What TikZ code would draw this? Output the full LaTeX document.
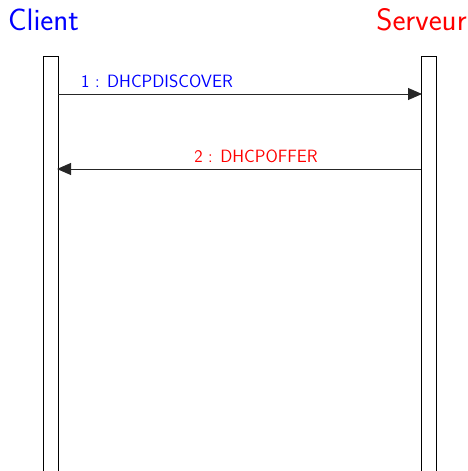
\documentclass[tikz,border=0pt]{standalone}
\usetikzlibrary{arrows.meta}
\begin{document}
\begin{tikzpicture}[x=1pt,y=-1pt,
  lifeline/.style={draw=black,line width=0.9pt},
  msg/.style={draw=black!85,line width=0.9pt,-{Triangle[length=14pt,width=12pt]}},
  actor/.style={font=\sffamily\fontsize{31}{33}\selectfont,anchor=base,inner sep=0pt},
  msglabel/.style={font=\sffamily\fontsize{17.8}{20}\selectfont,inner sep=0pt}]
\useasboundingbox (0,0) rectangle (468,471);
% actors
\node[actor,text=blue] (client) at (43.5,30) {Client};
\node[actor,text=red] (server) at (421.5,30) {Serveur};
% lifelines (open at the bottom)
\draw[lifeline] (43,472) -- (43,56) -- (58,56) -- (58,472);
\draw[lifeline] (421,472) -- (421,56) -- (436,56) -- (436,472);
\coordinate (c1) at (58,94);
\coordinate (s1) at (422,94);
\coordinate (s2) at (421,169);
\coordinate (c2) at (57,169);
% messages
\draw[msg] (c1) -- (s1);
\node[msglabel,text=blue] (m1) at (157,81) {1 : DHCPDISCOVER};
\draw[msg] (s2) -- (c2);
\node[msglabel,text=red] (m2) at (256,156) {2 : DHCPOFFER};
\end{tikzpicture}
\end{document}
